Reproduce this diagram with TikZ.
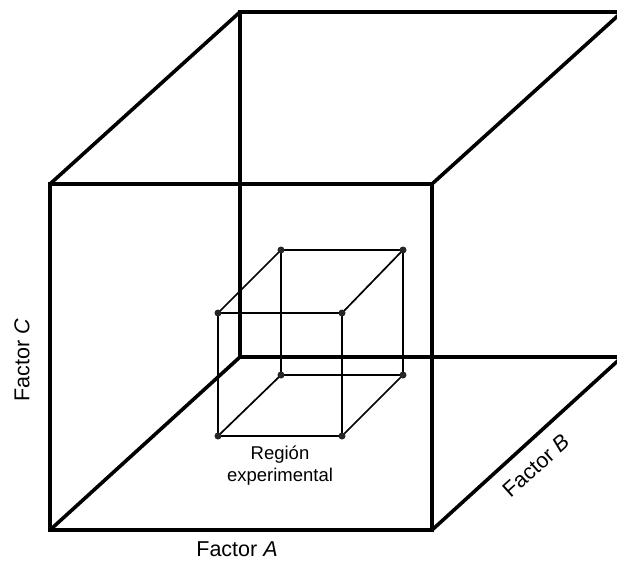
\documentclass[tikz,border=0pt]{standalone}
\usepackage{fontspec}
\setmainfont{Liberation Sans}
\begin{document}
\begin{tikzpicture}[x=1pt,y=-1pt,
  bigedge/.style={line width=4.5pt,line cap=rect},
  diagedge/.style={line width=3.6pt,line cap=round},
  smalledge/.style={line width=1.7pt},
  corner/.style={circle,fill=black!85,inner sep=0pt,minimum size=7pt},
  lbl/.style={font=\fontsize{21.5}{24}\selectfont,inner sep=1pt}]
\useasboundingbox (0,0) rectangle (617,562);
\clip (0,0) rectangle (617,562);
% big cube corners
\coordinate (F1) at (50,530);  \coordinate (F2) at (432,530);
\coordinate (F3) at (432,184); \coordinate (F4) at (50,184);
\coordinate (B1) at (240,357); \coordinate (B2) at (622,357);
\coordinate (B3) at (622,12);  \coordinate (B4) at (240,12);
% back edges
\draw[bigedge] (B1) -- (B2);
\draw[bigedge] (B1) -- (B4);
\draw[bigedge] (B4) -- (B3);
% diagonals
\draw[diagedge] (F1) -- (B1);
\draw[diagedge] (F2) -- (B2);
\draw[diagedge] (F3) -- (B3);
\draw[diagedge] (F4) -- (B4);
% small cube
\coordinate (f1) at (218,436); \coordinate (f2) at (342,436);
\coordinate (f3) at (342,313); \coordinate (f4) at (218,313);
\coordinate (b1) at (281,375); \coordinate (b2) at (403,375);
\coordinate (b3) at (403,250); \coordinate (b4) at (281,250);
\draw[smalledge] (f1) -- (f2) -- (f3) -- (f4) -- cycle;
\draw[smalledge] (b1) -- (b2) -- (b3) -- (b4) -- cycle;
\draw[smalledge] (f1) -- (b1) (f2) -- (b2) (f3) -- (b3) (f4) -- (b4);
\foreach \c in {f1,f2,f3,f4,b1,b2,b3,b4} \node[corner] at (\c) {};
% front face
\draw[bigedge] (F1) -- (F2) -- (F3) -- (F4) -- cycle;
% labels
\node[lbl] (la) at (237,549) {Factor \textit{A}};
\node[lbl,rotate=42] (lb) at (536,466) {Factor \textit{B}};
\node[lbl,rotate=90] (lc) at (22,360) {Factor \textit{C}};
\node[font=\fontsize{18.5}{22}\selectfont,align=center,inner sep=1pt] (lr) at (280,466) {Región\\experimental};
\end{tikzpicture}
\end{document}
